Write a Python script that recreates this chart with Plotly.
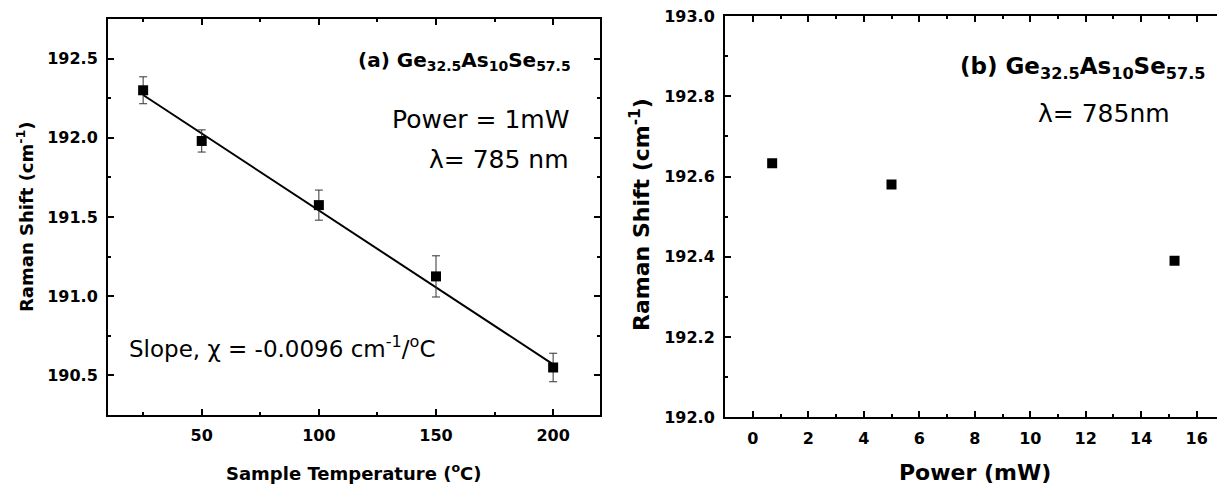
import plotly.graph_objects as go

# ---- data: panel (a) ----
temp_c = [25, 50, 100, 150, 200]
shift_a = [192.30, 191.98, 191.575, 191.125, 190.55]
err_a = [0.085, 0.07, 0.095, 0.13, 0.09]
fit_x = [25, 200]
fit_y = [192.27, 190.57]

# ---- data: panel (b) ----
power_mw = [0.7, 5.0, 15.2]
shift_b = [192.633, 192.58, 192.39]

W, H = 1217, 492
FONT = "DejaVu Sans"


def px(x):
    return x / W


def py(y):
    return 1 - y / H


fig = go.Figure()

fig.add_trace(go.Scatter(
    x=fit_x, y=fit_y, mode="lines", line=dict(color="black", width=2),
    xaxis="x", yaxis="y", showlegend=False, hoverinfo="skip"))
fig.add_trace(go.Scatter(
    x=temp_c, y=shift_a, mode="markers",
    marker=dict(symbol="square", size=10, color="black"),
    error_y=dict(type="data", array=err_a, visible=True, color="#333333",
                 thickness=1, width=4),
    xaxis="x", yaxis="y", showlegend=False))
fig.add_trace(go.Scatter(
    x=power_mw, y=shift_b, mode="markers",
    marker=dict(symbol="square", size=10, color="black"),
    xaxis="x2", yaxis="y2", showlegend=False))


def axis_style(mirror):
    return dict(
        showgrid=False, zeroline=False, showline=True, linecolor="black",
        linewidth=2, ticks="inside", ticklen=6, tickwidth=1.5, tickcolor="black",
        mirror=mirror, ticklabelstandoff=5, automargin=False,
        tickfont=dict(family=FONT, size=16, color="black", weight="bold"),
    )


fig.update_layout(
    template="none",
    width=W, height=H, autosize=False,
    margin=dict(l=0, r=0, t=0, b=0, pad=0),
    paper_bgcolor="white", plot_bgcolor="white",
    font=dict(family=FONT, color="black"),
    showlegend=False,
    xaxis=dict(
        **axis_style("ticks"), domain=[px(108), px(600)], range=[10, 220],
        anchor="y", tick0=0, dtick=50,
        minor=dict(dtick=25, ticks="inside", ticklen=3, tickcolor="black", tickwidth=1.5),
    ),
    yaxis=dict(
        **axis_style("ticks"), domain=[py(415), py(19)], range=[190.25, 192.75],
        anchor="x", tick0=190.5, dtick=0.5, tickformat=".1f",
        minor=dict(dtick=0.25, ticks="inside", ticklen=3, tickcolor="black", tickwidth=1.5),
    ),
    xaxis2=dict(
        **axis_style("ticks"), domain=[px(725), 1.0], range=[-1, 16.73], anchor="y2",
        tick0=0, dtick=2,
        minor=dict(dtick=1, ticks="inside", ticklen=3, tickcolor="black", tickwidth=1.5),
    ),
    yaxis2=dict(
        **axis_style(False), domain=[py(417.3), py(16)], range=[192.0, 193.0], anchor="x2",
        tick0=192, dtick=0.2, tickformat=".1f",
        minor=dict(dtick=0.1, ticks="inside", ticklen=3, tickcolor="black", tickwidth=1.5),
    ),
)

ann = [
    # panel (a)
    dict(x=px(573), y=py(61), xanchor="right", yanchor="middle",
         text="<b>(a) Ge<sub>32.5</sub>As<sub>10</sub>Se<sub>57.5</sub></b>",
         font=dict(size=20)),
    dict(x=px(571), y=py(119), xanchor="right", yanchor="middle",
         text="Power = 1mW", font=dict(size=25)),
    dict(x=px(571), y=py(159), xanchor="right", yanchor="middle",
         text="λ= 785 nm", font=dict(size=25)),
    dict(x=px(127), y=py(347), xanchor="left", yanchor="middle",
         text="Slope, χ = -0.0096 cm<sup>-1</sup>/<sup>o</sup>C", font=dict(size=23)),
    dict(x=px(25), y=py(217), xanchor="center", yanchor="middle", textangle=-90,
         text="<b>Raman Shift (cm<sup>-1</sup>)</b>", font=dict(size=18)),
    dict(x=px(353), y=py(472), xanchor="center", yanchor="middle",
         text="<b>Sample Temperature (<sup>o</sup>C)</b>", font=dict(size=18)),
    # panel (b)
    dict(x=px(1208), y=py(68), xanchor="right", yanchor="middle",
         text="<b>(b) Ge<sub>32.5</sub>As<sub>10</sub>Se<sub>57.5</sub></b>",
         font=dict(size=23)),
    dict(x=px(1104), y=py(113), xanchor="center", yanchor="middle",
         text="λ= 785nm", font=dict(size=25)),
    dict(x=px(640), y=py(215), xanchor="center", yanchor="middle", textangle=-90,
         text="<b>Raman Shift (cm<sup>-1</sup>)</b>", font=dict(size=22)),
    dict(x=px(975), y=py(472), xanchor="center", yanchor="middle",
         text="<b>Power (mW)</b>", font=dict(size=22)),
]
for a in ann:
    a.update(xref="paper", yref="paper", showarrow=False)
    a["font"] = dict(family=FONT, color="black", **a["font"])
fig.update_layout(annotations=ann)

fig.write_html(
    "out.html",
    config={"responsive": False, "displayModeBar": False},
    post_script=(
        "document.documentElement.style.margin='0';"
        "document.documentElement.style.overflow='hidden';"
        "document.body.style.margin='0';"
        "document.body.style.padding='0';"
        "document.body.style.overflow='hidden';"
    ),
)
